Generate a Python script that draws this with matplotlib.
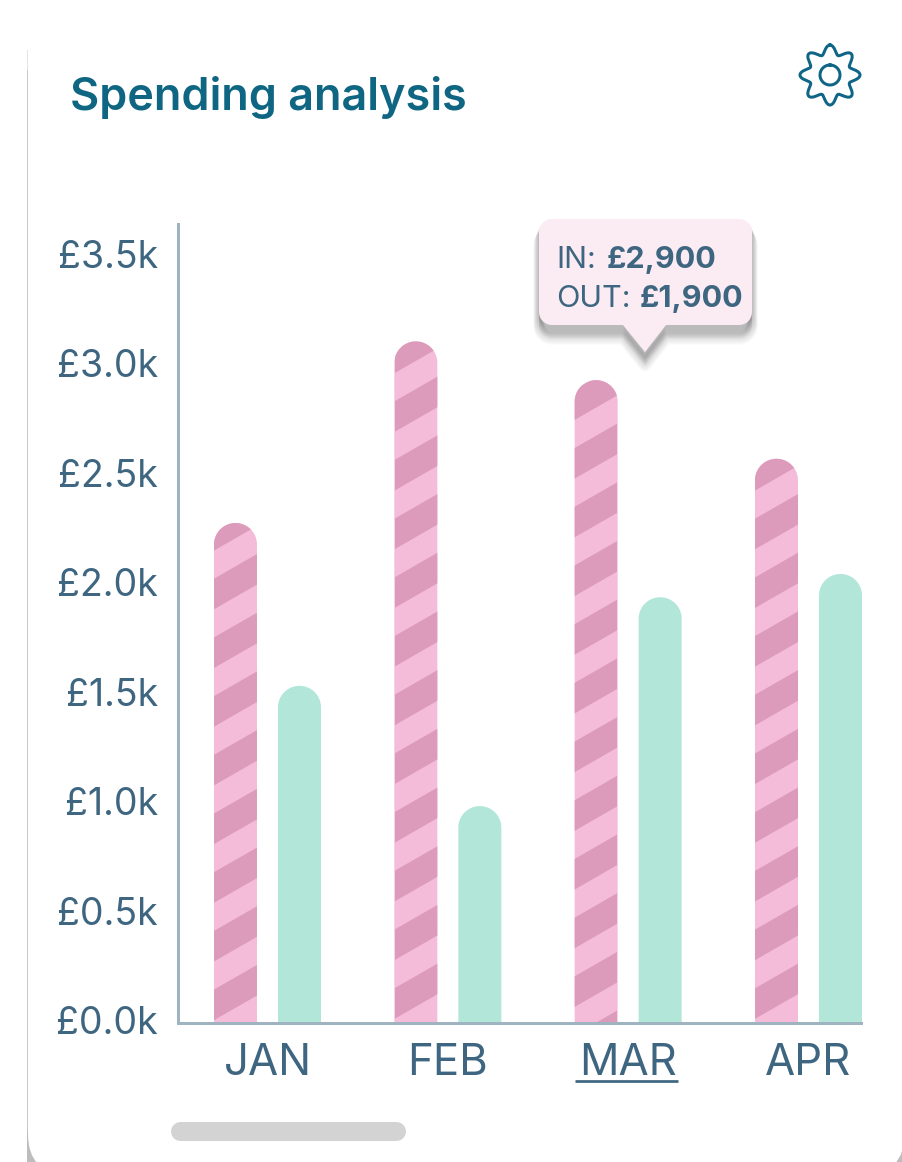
import numpy as np
import matplotlib
matplotlib.use("Agg")
import matplotlib.pyplot as plt
from matplotlib.path import Path
from matplotlib.patches import PathPatch, FancyBboxPatch, Rectangle

months = ["JAN", "FEB", "MAR", "APR"]
money_in = [2255, 3075, 2900, 2545]
money_out = [1520, 977, 1920, 2025]
y_ticks = [0, 500, 1000, 1500, 2000, 2500, 3000, 3500]
y_tick_labels = ["£0.0k", "£0.5k", "£1.0k", "£1.5k", "£2.0k", "£2.5k", "£3.0k", "£3.5k"]
tooltip_in = "£2,900"
tooltip_out = "£1,900"

FONT = "Inter"
W, H = 902, 1162
TEXT = "#3E6680"
TITLE = "#0F6682"
PINK = "#F5BCDA"
DARK = "#DC9BBB"
TEAL = "#B2E6D9"
AXIS = "#A0B3C0"
px = 0.72  # points per pixel at dpi 100

fig = plt.figure(figsize=(W / 100, H / 100), dpi=100, facecolor="white")

# --- pixel-space layer for the card, title, icon, tooltip, scrollbar
bg = fig.add_axes([0, 0, 1, 1], zorder=0)
bg.set_xlim(0, W)
bg.set_ylim(H, 0)
bg.axis("off")

# card edge: a thin grey line at the left that fades upward, grey corner wedges at the bottom
bg.add_patch(Rectangle((27, 1120), 875, 42, fc="#BDBDBD", ec="none"))
bg.add_patch(Rectangle((27, 70), 1.5, 1060, fc="#C8C8C8", ec="none"))
bg.add_patch(Rectangle((27, 50), 1.5, 20, fc="#E4E4E4", ec="none"))
bg.add_patch(FancyBboxPatch((28, 10), 876.5, 1164, boxstyle="round,pad=0,rounding_size=40",
                            fc="white", ec="none"))

bg.text(70, 110, "Spending analysis", family=FONT, fontsize=32.4, weight="semibold",
        color=TITLE, ha="left", va="baseline")

# gear icon
t = np.linspace(0, 2 * np.pi, 500)
r = 25.5 + 4.5 * np.cos(8 * t)
bg.plot(830 + r * np.sin(t), 75 - r * np.cos(t), color="#0E6585", lw=3 * px)
bg.plot(830 + 10 * np.sin(t), 75 - 10 * np.cos(t), color="#0E6585", lw=3 * px)

# scrollbar
bg.plot([179.5, 395.5], [1130.5, 1130.5], color="#D3D3D3", lw=19 * px, solid_capstyle="round")

# tooltip
def arc(cx, cy, rad, a0, a1):
    a = np.radians(np.linspace(a0, a1, 12))
    return list(zip(cx + rad * np.cos(a), cy + rad * np.sin(a)))

x0, x1, y0, y1, rad = 539, 752, 219, 325, 13
outline = (arc(x0 + rad, y0 + rad, rad, 180, 270) + arc(x1 - rad, y0 + rad, rad, 270, 360)
           + arc(x1 - rad, y1 - rad, rad, 0, 90)
           + [(666, y1), (645, 352), (623, y1)]
           + arc(x0 + rad, y1 - rad, rad, 90, 180))
tip_path = Path(np.array(outline + [outline[0]]))
for i in range(1, 15):
    shadow_path = Path(tip_path.vertices + np.array([0, i]))
    bg.add_patch(PathPatch(shadow_path, fc="#707070", ec="#707070", lw=i * 0.8 * px, alpha=0.04,
                           joinstyle="round"))
bg.add_patch(PathPatch(tip_path, fc="#FBECF4", ec="none"))

tip = dict(family=FONT, fontsize=22, color=TEXT, va="baseline")
bg.text(556, 268, "IN:", weight="normal", **tip)
bg.text(607, 268, tooltip_in, weight="bold", **tip)
bg.text(556, 307, "OUT:", weight="normal", **tip)
bg.text(640, 307, tooltip_out, weight="bold", **tip)

# --- chart axes; axes rectangle in pixels
ax_l, ax_r, ax_top, ax_bot = 178, 861, 224, 1022.5
rect = [ax_l / W, 1 - ax_bot / H, (ax_r - ax_l) / W, (ax_bot - ax_top) / H]
ax = fig.add_axes(rect, zorder=1)
ax.patch.set_visible(False)

group_px, step_px = 267.5, 180.33
ax.set_xlim((ax_l - group_px) / step_px, (ax_r - group_px) / step_px)
scale = 0.2215  # pixels per pound
ax.set_ylim(0, (ax_bot - ax_top) / scale)

bar_w = 43 / step_px
offset = 32 / step_px
arc_dy = 21.5 / scale
under = 2 / scale

def rounded_bar(xc, value):
    a = np.linspace(np.pi, 0, 40)
    xs = xc + bar_w / 2 * np.cos(a)
    ys = value - arc_dy + arc_dy * np.sin(a)
    verts = np.column_stack([
        np.r_[xc - bar_w / 2, xs, xc + bar_w / 2, xc - bar_w / 2],
        np.r_[-under, ys, -under, -under],
    ])
    return Path(verts, closed=True)

stripe_left_px = [214, 395, 574, 755]
stripe_phase_px = [578.7, 401.0, 976.7, 988.3]
period, band, rise = 58.7, 30.6, 24.7

for i, (vi, vo) in enumerate(zip(money_in, money_out)):
    bar = PathPatch(rounded_bar(i - offset, vi), fc=PINK, ec="none", zorder=2, clip_on=False)
    ax.add_patch(bar)
    left = stripe_left_px[i]
    for k in range(-30, 30):
        y = stripe_phase_px[i] + k * period
        poly = [(left, y), (left + 43, y - rise), (left + 43, y - rise + band), (left, y + band), (left, y)]
        s = PathPatch(Path(poly), fc=DARK, ec="none", zorder=2.1, transform=bg.transData)
        ax.add_patch(s)
        s.set_clip_path(bar)
    ax.add_patch(PathPatch(rounded_bar(i + offset, vo), fc=TEAL, ec="none", zorder=2, clip_on=False))

for side in ("top", "right"):
    ax.spines[side].set_visible(False)
for side in ("left", "bottom"):
    ax.spines[side].set_color(AXIS)
    ax.spines[side].set_linewidth(3 * px)
    ax.spines[side].set_zorder(3)

ax.set_yticks([])
ax.set_xticks(range(len(months)))
ax.set_xticklabels(months, family=FONT, fontsize=31.5, color=TEXT)
ax.tick_params(axis="x", length=0, pad=52.5 * px)
for lab in ax.get_xticklabels():
    lab.set_va("baseline")

# underline of the active month, in pixel space
bg.plot([575, 678], [1080.7, 1080.7], color=TEXT, lw=2.7 * px, solid_capstyle="butt")

# y tick labels sit on their own, slightly tighter scale
lab_ax = fig.add_axes(rect, zorder=1)
lab_ax.patch.set_visible(False)
for sp in lab_ax.spines.values():
    sp.set_visible(False)
lab_scale = (1020 - 254) / 3500
lab_ax.set_ylim((ax_bot - 1020) / -lab_scale, (1020 - ax_top) / lab_scale)
lab_ax.set_xticks([])
lab_ax.set_yticks(y_ticks)
lab_ax.set_yticklabels(y_tick_labels, family=FONT, fontsize=27, color=TEXT)
lab_ax.tick_params(axis="y", length=0, pad=20 * px)

fig.savefig("out.png", dpi=100)
